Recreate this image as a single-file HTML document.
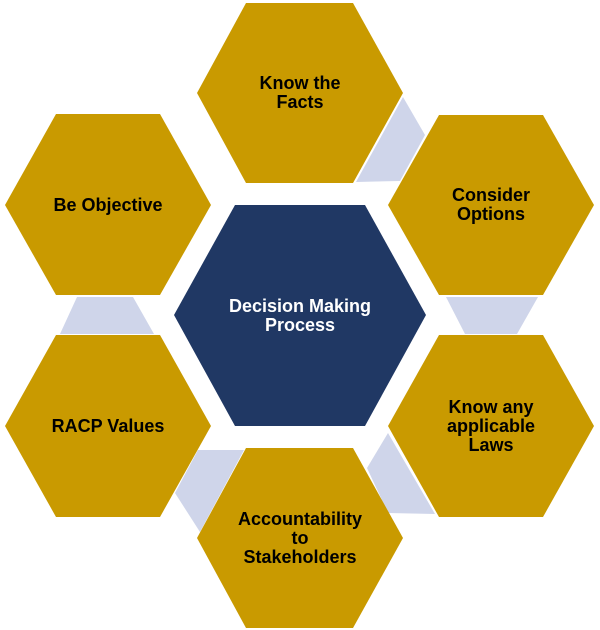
<!DOCTYPE html>
<html><head><style>html,body{margin:0;padding:0;background:#fff}svg{display:block}</style></head>
<body>
<svg width="600" height="630" viewBox="0 0 600 630" xmlns="http://www.w3.org/2000/svg">
<g fill="#cfd5ea">
<polygon points="403,97 425,135 400,181 356,182"/>
<polygon points="446,297 538,297 517,334 465,334"/>
<polygon points="77,297 133,297 154,334 60,334"/>
<polygon points="388,433 367,468 388,513 435,514"/>
<polygon points="198,450 244,450 200,532 175,493"/>
</g>
<g fill="#c99a00">
<polygon points="246,3 353,3 403,93 353,183 246,183 197,93"/>
<polygon points="56,114 160,114 211,205 160,295 56,295 5,205"/>
<polygon points="439,115 543,115 594,205 543,295 439,295 388,205"/>
<polygon points="56,335 160,335 211,426 160,517 56,517 5,426"/>
<polygon points="439,335 543,335 594,426 543,517 439,517 388,426"/>
<polygon points="246,448 353,448 403,538 353,628 246,628 197,538"/>
</g>
<polygon fill="#203864" points="235,205 365,205 426,315 365,426 235,426 174,315"/>
<g font-family="Liberation Sans, Arial, sans-serif" font-weight="bold" font-size="18" text-anchor="middle" fill="#000">
<text x="300" y="89">Know the</text><text x="300" y="108">Facts</text>
<text x="108" y="211">Be Objective</text>
<text x="491" y="201">Consider</text><text x="491" y="220">Options</text>
<text x="108" y="432">RACP Values</text>
<text x="491" y="413">Know any</text><text x="491" y="432">applicable</text><text x="491" y="451">Laws</text>
<text x="300" y="525">Accountability</text><text x="300" y="544">to</text><text x="300" y="563">Stakeholders</text>
<text x="300" y="312" fill="#fff">Decision Making</text><text x="300" y="331" fill="#fff">Process</text>
</g>
</svg>
</body></html>
